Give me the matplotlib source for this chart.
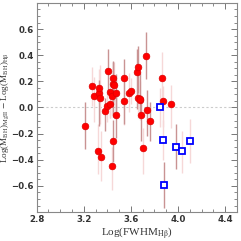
import matplotlib
matplotlib.use("Agg")
import matplotlib.pyplot as plt
from matplotlib.ticker import MultipleLocator

# red points: log FWHM(Hb), mass offset, lower / upper error
red_x = [3.21, 3.27, 3.29, 3.33, 3.33, 3.34, 3.32, 3.35, 3.38, 3.40, 3.41, 3.42, 3.42,
         3.44, 3.45, 3.45, 3.45, 3.44, 3.46, 3.47, 3.47, 3.54, 3.54, 3.58, 3.60, 3.65,
         3.66, 3.66, 3.68, 3.68, 3.69, 3.70, 3.73, 3.74, 3.76, 3.86, 3.87, 3.94]
red_y = [-0.14, 0.163, 0.087, 0.11, 0.146, 0.074, -0.33, -0.38, -0.03, 0.01, 0.28, 0.023, 0.12,
         0.09, 0.227, 0.18, -0.256, -0.45, 0.17, 0.107, -0.054, 0.224, 0.046, 0.112, 0.127, 0.27,
         0.31, 0.069, 0.056, 0.064, -0.054, -0.31, 0.395, -0.018, -0.105, 0.224, 0.048, 0.025]
red_lo = [0.18, 0.15, 0.2, 0.25, 0.12, 0.2, 0.18, 0.18, 0.15, 0.12, 0.15, 0.1, 0.2,
          0.15, 0.3, 0.15, 0.16, 0.18, 0.12, 0.15, 0.18, 0.35, 0.18, 0.15, 0.1, 0.28,
          0.2, 0.15, 0.15, 0.1, 0.2, 0.2, 0.18, 0.2, 0.15, 0.2, 0.2, 0.18]
red_hi = [0.18, 0.15, 0.15, 0.1, 0.15, 0.25, 0.2, 0.2, 0.1, 0.1, 0.17, 0.1, 0.1,
          0.15, 0.13, 0.17, 0.16, 0.15, 0.18, 0.15, 0.15, 0.15, 0.15, 0.15, 0.1, 0.18,
          0.16, 0.15, 0.15, 0.2, 0.15, 0.15, 0.18, 0.15, 0.15, 0.2, 0.12, 0.15]
red_dark = [1, 0, 0, 1, 0, 0, 0, 0, 1, 0, 1, 0, 0,
            0, 1, 1, 1, 0, 0, 1, 1, 1, 0, 0, 0, 1,
            1, 0, 0, 1, 1, 0, 1, 1, 1, 0, 0, 0]

# blue squares
blue_x = [3.85, 3.87, 3.88, 3.98, 4.03, 4.10]
blue_y = [0.0, -0.245, -0.59, -0.30, -0.33, -0.255]
blue_lo = [0.15, 0.16, 0.18, 0.17, 0.17, 0.17]
blue_hi = [0.15, 0.15, 0.17, 0.17, 0.15, 0.17]
blue_dark = [0, 0, 1, 1, 0, 0]

plt.rcParams["mathtext.fontset"] = "stix"

fig = plt.figure(figsize=(2.41, 2.41), dpi=100)
ax = fig.add_axes([0.152, 0.12, 0.831, 0.868])

ax.axhline(0, color="#cccccc", lw=0.8, ls=(0, (2, 2)), zorder=1)


def bars(xs, ys, lo, hi, dark):
    for shade, col in [(0, "#f6d8d8"), (1, "#c99393")]:
        sel = [i for i in range(len(xs)) if dark[i] == shade]
        ax.errorbar([xs[i] for i in sel], [ys[i] for i in sel],
                    yerr=[[lo[i] for i in sel], [hi[i] for i in sel]],
                    fmt="none", ecolor=col, elinewidth=1.0, capsize=0, zorder=2)


bars(red_x, red_y, red_lo, red_hi, red_dark)
bars(blue_x, blue_y, blue_lo, blue_hi, blue_dark)

ax.plot(red_x, red_y, "o", ms=4.8, color="#ff0000", mec="#dd0000", mew=0.5, zorder=3)
ax.plot(blue_x, blue_y, "s", ms=4.2, mfc="white", mec="#0000ff", mew=1.3, zorder=3)

ax.set_xlim(2.8, 4.5)
ax.set_ylim(-0.8, 0.8)
ax.xaxis.set_major_locator(MultipleLocator(0.4))
ax.xaxis.set_minor_locator(MultipleLocator(0.1))
ax.yaxis.set_major_locator(MultipleLocator(0.2))
ax.yaxis.set_minor_locator(MultipleLocator(0.05))
ax.set_yticks([-0.6, -0.4, -0.2, 0.0, 0.2, 0.4, 0.6])
ax.set_xticks([2.8, 3.2, 3.6, 4.0, 4.4])
ax.tick_params(which="both", direction="in", top=True, right=True, color="#777777",
               labelsize=6.2, labelcolor="#333333", pad=2)
ax.tick_params(which="major", length=4, width=0.7)
ax.tick_params(which="minor", length=2, width=0.6)
for lab in ax.get_xticklabels() + ax.get_yticklabels():
    lab.set_fontweight("bold")
for sp in ax.spines.values():
    sp.set_color("#888888")
    sp.set_linewidth(0.8)

ax.set_xlabel(r"Log(FWHM$_{\rm H\beta}$)", family="Liberation Serif", fontsize=8,
              color="#333333", labelpad=1)
ax.set_ylabel(r"Log(M$_{\rm BH}$)$_{\rm MgII}$ $-$ Log(M$_{\rm BH}$)$_{\rm H\beta}$",
              family="Liberation Serif", fontsize=6.6, color="#333333")
ax.yaxis.set_label_coords(-0.13, 0.5)

fig.savefig("out.png", dpi=100)
